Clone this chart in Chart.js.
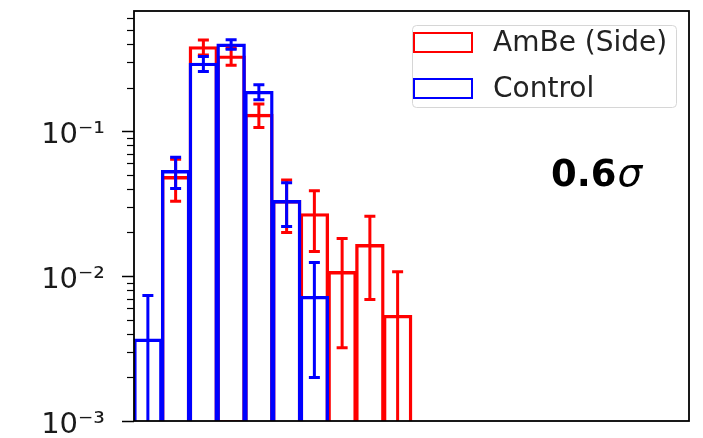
<!DOCTYPE html>
<html lang="en">
<head>
<meta charset="UTF-8">
<title>AmBe (Side) vs Control</title>
<script src="https://cdn.jsdelivr.net/npm/chart.js"></script>
<style>
  body {
    margin: 0;
    background: #fff;
  }
  .chart-wrapper {
    width: 703px;
    height: 438px;
  }
</style>
</head>
<body>
<div class="chart-wrapper"><canvas id="histChart"></canvas></div>
<script>
  // 20 bins on the x axis, only the first ten hold entries
  const binLabels = ['0', '1', '2', '3', '4', '5', '6', '7', '8', '9',
                     '10', '11', '12', '13', '14', '15', '16', '17', '18', '19'];

  const ambeValues = [null, 0.0484, 0.381, 0.329, 0.130, 0.033, 0.0268, 0.0107, 0.0164, 0.00532,
                      null, null, null, null, null, null, null, null, null, null];
  const ambeErrors = [null, 0.0155, 0.045, 0.044, 0.024, 0.013, 0.012, 0.0075, 0.0095, 0.0054,
                      null, null, null, null, null, null, null, null, null, null];

  const controlValues = [0.00366, 0.0532, 0.293, 0.397, 0.187, 0.033, 0.0072, null, null, null,
                         null, null, null, null, null, null, null, null, null, null];
  const controlErrors = [0.0037, 0.013, 0.035, 0.03, 0.022, 0.011, 0.0052, null, null, null,
                         null, null, null, null, null, null, null, null, null, null];

  const yMajorTicks = [0.001, 0.01, 0.1];
  const yMajorLabels = ['10⁻³', '10⁻²', '10⁻¹'];
  const significance = '0.6';

  const isMajor = v => yMajorTicks.some(t => Math.abs(v - t) < t * 1e-6);
  const isWholeStep = v => {
    const m = v / Math.pow(10, Math.floor(Math.log10(v) + 1e-9));
    return Math.abs(m - Math.round(m)) < 1e-6;
  };

  // error bars, minor ticks, frame, legend and the sigma note
  const extras = {
    id: 'extras',
    afterDatasetsDraw(chart) {
      const { ctx, chartArea: a, scales: { y } } = chart;

      ctx.save();
      ctx.beginPath();
      ctx.rect(a.left, a.top, a.right - a.left, a.bottom - a.top);
      ctx.clip();
      chart.data.datasets.forEach((ds, di) => {
        const meta = chart.getDatasetMeta(di);
        ctx.strokeStyle = ds.borderColor;
        ctx.lineWidth = 3;
        ds.data.forEach((v, i) => {
          if (v == null) return;
          const e = ds.errors[i];
          const x = meta.data[i].x;
          const lo = v - e > 0 ? v - e : y.min / 10;
          const yTop = y.getPixelForValue(v + e);
          const yBot = y.getPixelForValue(lo);
          ctx.beginPath();
          ctx.moveTo(x, yTop);
          ctx.lineTo(x, yBot);
          ctx.moveTo(x - 5.5, yTop);
          ctx.lineTo(x + 5.5, yTop);
          ctx.moveTo(x - 5.5, yBot);
          ctx.lineTo(x + 5.5, yBot);
          ctx.stroke();
        });
      });
      ctx.restore();

      ctx.save();
      ctx.strokeStyle = '#000';
      ctx.lineWidth = 1.2;
      y.ticks.forEach(t => {
        if (isMajor(t.value)) return;
        const py = Math.round(y.getPixelForValue(t.value)) + 0.5;
        ctx.beginPath();
        ctx.moveTo(a.left - 7, py);
        ctx.lineTo(a.left, py);
        ctx.stroke();
      });
      ctx.lineWidth = 1.8;
      ctx.strokeRect(a.left, a.top, a.right - a.left, a.bottom - a.top);

      // legend box
      const lx = 412, ly = 25, lw = 264, lh = 82;
      ctx.fillStyle = 'rgba(255,255,255,0.8)';
      ctx.strokeStyle = '#d6d6d6';
      ctx.lineWidth = 1;
      ctx.beginPath();
      ctx.roundRect(lx + 0.5, ly + 0.5, lw, lh, 4);
      ctx.fill();
      ctx.stroke();
      const rows = [chart.data.datasets[0], chart.data.datasets[1]];
      ctx.font = '28px "DejaVu Sans"';
      ctx.textBaseline = 'middle';
      ctx.textAlign = 'left';
      rows.forEach((ds, r) => {
        const cy = 42.5 + r * 46;
        ctx.strokeStyle = ds.borderColor;
        ctx.lineWidth = 2;
        ctx.strokeRect(414, cy - 9.5, 58, 19);
        ctx.fillStyle = '#222';
        ctx.fillText(ds.label, 493, cy + 1);
      });

      // significance note
      ctx.fillStyle = '#000';
      ctx.textBaseline = 'alphabetic';
      ctx.font = 'bold 37px "DejaVu Sans"';
      ctx.fillText(significance, 551, 186);
      const w = ctx.measureText(significance).width;
      ctx.font = 'italic 39px "DejaVu Sans"';
      ctx.fillText('σ', 551 + w + 1, 186);
      ctx.restore();
    }
  };

  new Chart(document.getElementById('histChart').getContext('2d'), {
    type: 'bar',
    data: {
      labels: binLabels,
      datasets: [
        {
          label: 'AmBe (Side)',
          data: ambeValues,
          errors: ambeErrors,
          borderColor: '#ff0000',
          order: 1
        },
        {
          label: 'Control',
          data: controlValues,
          errors: controlErrors,
          borderColor: '#0000ff',
          order: 0
        }
      ]
    },
    options: {
      responsive: true,
      maintainAspectRatio: false,
      animation: false,
      layout: { padding: { top: 11, right: 14, bottom: 17, left: 0 } },
      datasets: {
        bar: {
          backgroundColor: 'rgba(0,0,0,0)',
          borderWidth: 1.7,
          borderSkipped: 'bottom',
          inflateAmount: 0.85,
          grouped: false,
          barPercentage: 1,
          categoryPercentage: 1
        }
      },
      plugins: {
        legend: { display: false },
        tooltip: { enabled: false }
      },
      scales: {
        x: { display: false },
        y: {
          type: 'logarithmic',
          min: 0.001,
          max: 0.675,
          afterBuildTicks: s => { s.ticks = s.ticks.filter(t => isWholeStep(t.value)); },
          afterFit: s => {
            s.width = 134;
            s.paddingTop = 0;
            s.paddingBottom = 0;
          },
          border: { display: false },
          grid: {
            drawOnChartArea: false,
            tickLength: 12,
            tickWidth: 1.5,
            tickColor: c => isMajor(c.tick.value) ? '#000' : 'rgba(0,0,0,0)'
          },
          ticks: {
            autoSkip: false,
            padding: 17,
            labelOffset: 4,
            color: '#1a1a1a',
            font: { family: 'DejaVu Sans', size: 29 },
            callback: v => {
              const k = yMajorTicks.findIndex(t => Math.abs(v - t) < t * 1e-6);
              return k >= 0 ? yMajorLabels[k] : '';
            }
          }
        }
      }
    },
    plugins: [extras]
  });
</script>
</body>
</html>
